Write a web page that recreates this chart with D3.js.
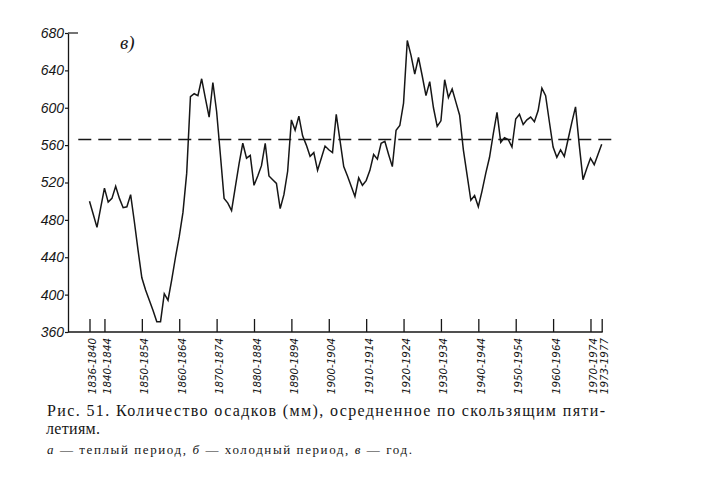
<!DOCTYPE html>
<html>
<head>
<meta charset="utf-8">
<script src="https://cdn.jsdelivr.net/npm/d3@7"></script>
<style>
  body { margin: 0; background: #fff; }
  svg { display: block; }
</style>
</head>
<body>
<script>
// ---- data ----
const startYear = 1836; // first year of the first 5-year window (1836-1840)
const precipitation = [
  500, 486, 472, 493, 514, 499, 503, 516, 503, 493,   // 1836-1845
  494, 507, 478, 447, 418, 405, 394, 383, 371, 371,   // 1846-1855
  401, 394, 416, 440, 462, 488, 530, 612, 615, 613,   // 1856-1865
  631, 610, 590, 627, 596, 550, 503, 498, 490, 515,   // 1866-1875
  540, 562, 546, 549, 517, 527, 538, 562, 527, 523,   // 1876-1885
  519, 492, 507, 532, 587, 576, 591, 570, 560, 548,   // 1886-1895
  552, 533, 546, 559, 555, 552, 593, 565, 537, 527,   // 1896-1905
  516, 505, 525, 517, 522, 533, 550, 545, 562, 564,   // 1906-1915
  550, 537, 576, 581, 605, 672, 656, 636, 654, 634,   // 1916-1925
  613, 628, 600, 580, 586, 630, 611, 620, 606, 592,   // 1926-1935
  555, 528, 501, 506, 494, 511, 530, 547, 572, 595,   // 1936-1945
  563, 568, 566, 558, 588, 593, 582, 587, 590, 585,   // 1946-1955
  597, 621, 613, 585, 558, 547, 555, 548, 566, 584,   // 1956-1965
  601, 560, 523, 535, 546, 539, 550, 561              // 1966-1973
];
const meanPrecip = 566;
const meanSpan = [1833, 1977];
const yTicks = [360, 400, 440, 480, 520, 560, 600, 640, 680];
const xTickYears = [1836, 1840, 1850, 1860, 1870, 1880, 1890, 1900, 1910, 1920, 1930, 1940, 1950, 1960, 1970, 1973];
const xTickLabels = ["1836-1840", "1840-1844", "1850-1854", "1860-1864", "1870-1874", "1880-1884",
  "1890-1894", "1900-1904", "1910-1914", "1920-1924", "1930-1934", "1940-1944", "1950-1954",
  "1960-1964", "1970-1974", "1973-1977"];
const panelLabel = "в)";
const captionLine1 = "Рис. 51. Количество осадков (мм), осредненное по скользящим пяти-";
const captionLine2 = "летиям.";
const legendParts = [
  {t: "а", it: true}, {t: " — теплый период, ", it: false},
  {t: "б", it: true}, {t: " — холодный период, ", it: false},
  {t: "в", it: true}, {t: " — год.", it: false}
];

// ---- drawing ----
const W = 709, H = 488;
const ink = "#161616";
const svg = d3.select("body").append("svg").attr("width", W).attr("height", H);
svg.append("rect").attr("width", W).attr("height", H).attr("fill", "#fff");

const x = d3.scaleLinear().domain([1836, 1973]).range([89.5, 601.7]);
const y = d3.scaleLinear().domain([360, 680]).range([332, 33]);
const axisX0 = 68;

const series = precipitation.map((v, i) => ({year: startYear + i, value: v}));

// y axis
const gy = svg.append("g").attr("transform", `translate(${axisX0},0)`)
  .call(d3.axisLeft(y).tickValues(yTicks).tickSize(3).tickSizeOuter(0).tickPadding(1));
gy.select(".domain").attr("stroke", ink).attr("stroke-width", 1.3);
gy.selectAll(".tick line").attr("stroke", ink).attr("stroke-width", 1.2);
gy.selectAll(".tick text")
  .attr("fill", ink)
  .style("font-family", "'Liberation Sans', Arial, sans-serif")
  .style("font-style", "italic")
  .style("font-size", "14px");
// small top cap at 680
svg.append("line").attr("x1", axisX0).attr("x2", axisX0 + 10)
  .attr("y1", y(680)).attr("y2", y(680)).attr("stroke", ink).attr("stroke-width", 1.2);

// x axis line
svg.append("line").attr("x1", axisX0).attr("x2", x(1973) + 1)
  .attr("y1", y(360)).attr("y2", y(360)).attr("stroke", ink).attr("stroke-width", 1.3);

const gx = svg.append("g").attr("transform", `translate(0,${y(360)})`)
  .call(d3.axisBottom(x).tickValues(xTickYears).tickSize(-13).tickSizeOuter(0)
    .tickFormat((d, i) => xTickLabels[i]));
gx.select(".domain").remove();
gx.selectAll(".tick line").attr("stroke", ink).attr("stroke-width", 1.3);
gx.selectAll(".tick text")
  .attr("fill", ink)
  .attr("text-anchor", "end")
  .attr("dy", null)
  .attr("y", null)
  .attr("transform", "translate(6,6) rotate(-90)")
  .style("font-family", "'DejaVu Sans', sans-serif")
  .style("font-style", "italic")
  .style("font-size", "10.3px");

// mean dashed line
svg.append("line")
  .attr("x1", x(meanSpan[0])).attr("x2", x(meanSpan[1]))
  .attr("y1", y(meanPrecip)).attr("y2", y(meanPrecip))
  .attr("stroke", ink).attr("stroke-width", 1.4)
  .attr("stroke-dasharray", "13,7");

// data line
svg.append("path").datum(series)
  .attr("fill", "none").attr("stroke", ink).attr("stroke-width", 1.5)
  .attr("stroke-linejoin", "miter")
  .attr("d", d3.line().x(d => x(d.year)).y(d => y(d.value)));

// panel label
svg.append("text").attr("x", 120).attr("y", 49)
  .text(panelLabel)
  .attr("fill", ink)
  .style("font-family", "'Liberation Serif', serif")
  .style("font-style", "italic")
  .style("font-size", "19px");

// caption
const cap = svg.append("g").attr("fill", ink)
  .style("font-family", "'Liberation Serif', 'Times New Roman', serif");
cap.append("text").attr("x", 47).attr("y", 416)
  .attr("textLength", 558).attr("lengthAdjust", "spacing")
  .style("font-size", "16px").text(captionLine1);
cap.append("text").attr("x", 46).attr("y", 434)
  .style("font-size", "16px").attr("textLength", 54).attr("lengthAdjust", "spacing")
  .text(captionLine2);
const leg = cap.append("text").attr("x", 47).attr("y", 454)
  .attr("textLength", 365).attr("lengthAdjust", "spacing")
  .style("font-size", "13px");
legendParts.forEach(p => {
  leg.append("tspan").text(p.t).style("font-style", p.it ? "italic" : "normal");
});
</script>
</body>
</html>
